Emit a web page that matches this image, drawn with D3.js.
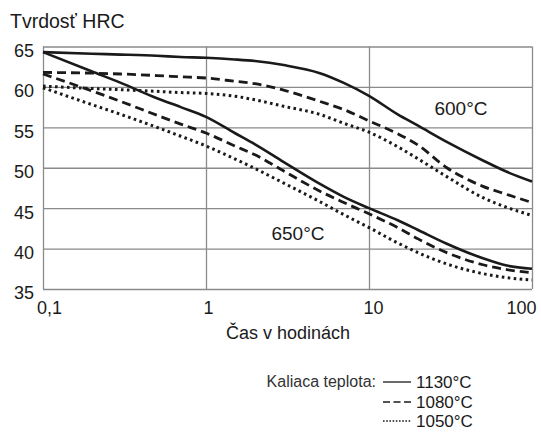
<!DOCTYPE html>
<html>
<head>
<meta charset="utf-8">
<script src="https://cdn.jsdelivr.net/npm/d3@7"></script>
<style>
  html, body { margin: 0; padding: 0; background: #fff; }
  svg { display: block; font-family: "Liberation Sans", Arial, sans-serif; }
</style>
</head>
<body>
<svg id="chart" width="541" height="432"></svg>
<script>
// ---- data ----
const hours = [0.1, 0.2, 0.3, 0.5, 0.7, 1, 1.5, 2, 3, 5, 7, 10, 15, 20, 30, 50, 70, 100];
const hrc600_1130 = [64.3, 64.1, 64.0, 63.85, 63.7, 63.6, 63.4, 63.2, 62.7, 61.7, 60.5, 58.9, 56.6, 55.2, 53.2, 50.9, 49.5, 48.3];
const hrc600_1080 = [61.8, 61.7, 61.6, 61.4, 61.25, 61.1, 60.7, 60.4, 59.6, 58.2, 57.2, 55.8, 54.2, 52.8, 50.0, 47.7, 46.7, 45.7];
const hrc600_1050 = [60.1, 59.8, 59.65, 59.45, 59.3, 59.2, 58.85, 58.4, 57.6, 56.6, 55.5, 54.4, 52.6, 51.1, 48.9, 46.3, 45.1, 44.1];
const hrc650_1130 = [64.3, 61.9, 60.5, 58.6, 57.5, 56.3, 54.3, 52.9, 50.7, 48.0, 46.4, 45.0, 43.5, 42.3, 40.6, 38.8, 37.9, 37.5];
const hrc650_1080 = [61.6, 59.5, 58.2, 56.5, 55.4, 54.3, 52.7, 51.6, 49.6, 47.1, 45.7, 44.3, 42.6, 41.2, 39.5, 38.0, 37.4, 37.0];
const hrc650_1050 = [59.9, 57.8, 56.6, 55.0, 53.9, 52.7, 51.1, 49.9, 48.1, 45.8, 44.2, 42.6, 40.7, 39.5, 38.1, 36.9, 36.4, 36.1];

const xTicks = [0.1, 1, 10, 100];
const xTickLabels = ["0,1", "1", "10", "100"];
const yTicks = [35, 40, 45, 50, 55, 60, 65];
const austenitizing = ["1130°C", "1080°C", "1050°C"];
const tempLabels = ["600°C", "650°C"];

// ---- layout ----
const svg = d3.select("#chart");
const pLeft = 43, pRight = 532, pTop = 46.5, pBottom = 289;
const x = d3.scaleLog().domain([0.1, 100]).range([pLeft, pRight]);
const y = d3.scaleLinear().domain([35, 65]).range([pBottom, pTop]);

const gridColor = "#8a8a8a";
const ink = "#1a1a1a";

// y grid + labels
const yAxis = svg.append("g")
  .attr("transform", `translate(${pLeft},0)`)
  .call(d3.axisLeft(y).tickValues(yTicks).tickSize(-(pRight - pLeft)).tickPadding(9).tickFormat(d3.format("d")));
yAxis.select(".domain").remove();
yAxis.selectAll(".tick line").attr("stroke", gridColor).attr("stroke-width", 1.3);
yAxis.selectAll(".tick text").attr("fill", ink).style("font-size", "18px").attr("dy", "0.55em");

// x grid + labels
const xOffsets = [6, 2, 4, -11];
const xAxis = svg.append("g")
  .attr("transform", `translate(0,${pBottom})`)
  .call(d3.axisBottom(x).tickValues(xTicks).tickSize(-(pBottom - pTop)).tickPadding(8)
    .tickFormat((d, i) => xTickLabels[i]));
xAxis.select(".domain").remove();
xAxis.selectAll(".tick line").attr("stroke", gridColor).attr("stroke-width", 1.3);
xAxis.selectAll(".tick text").attr("fill", ink).style("font-size", "18px")
  .attr("dx", (d, i) => xOffsets[i]).attr("dy", "0.95em");

// titles
svg.append("text").attr("x", 10).attr("y", 28).attr("fill", ink)
  .style("font-size", "19.5px").text("Tvrdosť HRC");
svg.append("text").attr("x", 288).attr("y", 339).attr("text-anchor", "middle").attr("fill", ink)
  .style("font-size", "18px").text("Čas v hodinách");

// curves
const series = [
  { v: hrc600_1130, dash: null, w: 2.6 },
  { v: hrc600_1080, dash: "9,5", w: 2.8 },
  { v: hrc600_1050, dash: "2.6,3.4", w: 3 },
  { v: hrc650_1130, dash: null, w: 2.6 },
  { v: hrc650_1080, dash: "9,5", w: 2.8 },
  { v: hrc650_1050, dash: "2.6,3.4", w: 3 }
];
const line = d3.line().x((d, i) => x(hours[i])).y(d => y(d)).curve(d3.curveMonotoneX);
series.forEach(s => {
  svg.append("path").datum(s.v).attr("d", line)
    .attr("fill", "none").attr("stroke", ink).attr("stroke-width", s.w)
    .attr("stroke-dasharray", s.dash);
});

// temperature labels
svg.append("text").attr("x", 461).attr("y", 115).attr("text-anchor", "middle").attr("fill", ink)
  .style("font-size", "19px").text(tempLabels[0]);
svg.append("text").attr("x", 298).attr("y", 240).attr("text-anchor", "middle").attr("fill", ink)
  .style("font-size", "19px").text(tempLabels[1]);

// legend
const legY = [381, 401, 420];
const legDash = [null, "7,3.5", "1.6,1.6"];
svg.append("text").attr("x", 376).attr("y", legY[0] + 6).attr("text-anchor", "end").attr("fill", "#333")
  .style("font-size", "16px").text("Kaliaca teplota:");
austenitizing.forEach((lab, i) => {
  svg.append("line").attr("x1", 383).attr("x2", 411).attr("y1", legY[i] + 1).attr("y2", legY[i] + 1)
    .attr("stroke", ink).attr("stroke-width", i === 2 ? 1.6 : 1.3).attr("stroke-dasharray", legDash[i]);
  svg.append("text").attr("x", 416).attr("y", legY[i] + 7).attr("fill", ink)
    .style("font-size", "17px").text(lab);
});
</script>
</body>
</html>
